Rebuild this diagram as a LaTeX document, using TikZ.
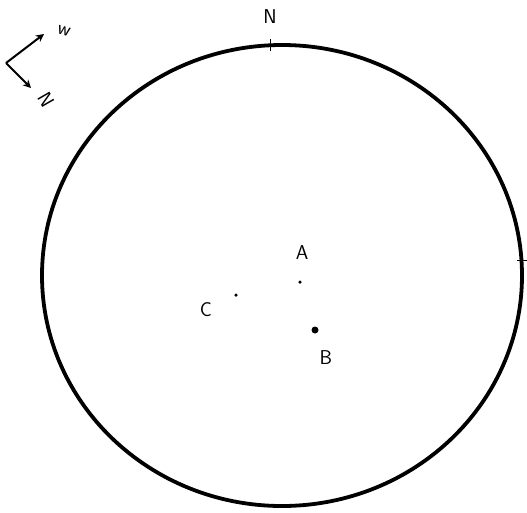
\documentclass[tikz,border=0pt]{standalone}
\usetikzlibrary{arrows.meta}
\begin{document}
\begin{tikzpicture}[x=1pt,y=-1pt,
  lbl/.style={font=\sffamily\fontsize{20}{22}\selectfont},
  pt/.style={circle,fill=black,inner sep=0pt,minimum size=4pt},
  arr/.style={line width=2pt,-{Stealth[length=8pt,width=8pt]}}]
\useasboundingbox (0,0) rectangle (527,512);
\draw[line width=3.8pt] (282,275.5) ellipse [x radius=240, y radius=230.5];
\draw[line width=1pt] (270,39) -- (270,51);
\draw[line width=1pt] (517,260) -- (527,260);
\node[lbl] (nlabel) at (270,17) {N};
% compass
\coordinate (o) at (6,63);
\coordinate (w) at (44,34);
\coordinate (s) at (31,88);
\draw[arr] (o) -- (w);
\draw[arr] (o) -- (s);
\node[lbl,rotate=-15] (wlabel) at (64,31) {w};
\node[lbl,rotate=-60] (nlab2) at (46,100) {N};
% points
\node[pt,minimum size=3.5pt] (a) at (300,282) {};
\node[lbl] (alabel) at (302,253) {A};
\node[pt,minimum size=3.5pt] (c) at (236,295) {};
\node[lbl] (clabel) at (206,310) {C};
\node[pt,minimum size=7pt] (b) at (315,330) {};
\node[lbl] (blabel) at (326,358) {B};
\end{tikzpicture}
\end{document}
